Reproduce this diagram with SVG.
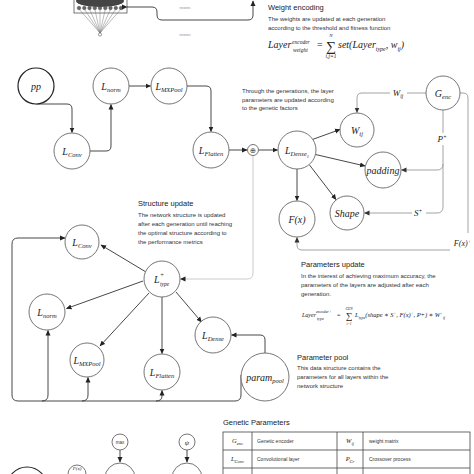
<svg xmlns="http://www.w3.org/2000/svg" width="474" height="474" viewBox="0 0 474 474">
<defs>
<marker id="ah" markerWidth="6" markerHeight="6" refX="5" refY="3" orient="auto" markerUnits="userSpaceOnUse"><path d="M0,0.5 L5.5,3 L0,5.5 Z" fill="#222"/></marker>
<marker id="ahg" markerWidth="6" markerHeight="6" refX="5" refY="3" orient="auto" markerUnits="userSpaceOnUse"><path d="M0,0.5 L5.5,3 L0,5.5 Z" fill="#333"/></marker>
<style>
.n{fill:#fff;stroke:#666;stroke-width:0.9}
.lb{font-family:"Liberation Serif","DejaVu Serif",serif;font-style:italic;font-size:10px;fill:#222;text-anchor:middle}
.s{font-size:6.5px}
.h{font-family:"Liberation Sans",Arial,sans-serif;font-size:7.5px;fill:#222}
.b{font-family:"Liberation Sans",Arial,sans-serif;font-size:6px;fill:#333}
.m{font-family:"Liberation Serif","DejaVu Serif",serif;font-style:italic;fill:#222}
.e{fill:none;stroke:#333;stroke-width:0.9}
.g{fill:none;stroke:#999;stroke-width:0.9}
.t{font-family:"Liberation Sans",Arial,sans-serif;font-size:5px;fill:#333}
</style>
</defs>
<rect width="474" height="474" fill="#fff"/>

<!-- top network graphic -->
<g id="network">
<rect x="74" y="-2" width="53" height="15" fill="#fff" stroke="#555" stroke-width="0.8"/>
<ellipse cx="100" cy="1" rx="24" ry="6" fill="#444"/>
<g stroke="#777" stroke-width="0.5">
<line x1="79" y1="9" x2="100" y2="33"/><line x1="84.3" y1="9" x2="100" y2="33"/><line x1="89.5" y1="9" x2="100" y2="33"/><line x1="94.8" y1="9" x2="100" y2="33"/><line x1="100" y1="9" x2="100" y2="33"/><line x1="105.3" y1="9" x2="100" y2="33"/><line x1="110.5" y1="9" x2="100" y2="33"/><line x1="115.8" y1="9" x2="100" y2="33"/><line x1="121" y1="9" x2="100" y2="33"/>
</g>
<g fill="#666" stroke="#333" stroke-width="0.4">
<circle cx="79" cy="8" r="1.8"/><circle cx="84.3" cy="8" r="1.8"/><circle cx="89.5" cy="8" r="1.8"/><circle cx="94.8" cy="8" r="1.8"/><circle cx="100" cy="8" r="1.8"/><circle cx="105.3" cy="8" r="1.8"/><circle cx="110.5" cy="8" r="1.8"/><circle cx="115.8" cy="8" r="1.8"/><circle cx="121" cy="8" r="1.8"/>
</g>
<circle cx="100" cy="34.5" r="1.6" fill="#fff" stroke="#555" stroke-width="0.6"/>
<text x="185" y="9" font-family="Liberation Sans,sans-serif" font-size="3" fill="#888" text-anchor="middle">neurons</text>
<text x="185" y="36" font-family="Liberation Sans,sans-serif" font-size="3" fill="#888" text-anchor="middle">neurons</text>
</g>

<!-- text blocks -->
<g id="weight-encoding">
<text class="h" x="268" y="10">Weight encoding</text>
<text class="b" x="268" y="21">The weights are updated at each generation</text>
<text class="b" x="268" y="30">according to the threshold and fitness function</text>
<text class="m" x="268" y="48" font-size="10">Layer</text>
<text class="m" x="292" y="43.5" font-size="5.5">encoder</text>
<text class="m" x="293" y="51.5" font-size="5.5">weight</text>
<text x="317" y="48" font-family="Liberation Serif,serif" font-size="10" fill="#222">=</text>
<text x="331" y="50.5" font-family="Liberation Serif,serif" font-size="14" fill="#222" text-anchor="middle">∑</text>
<text class="m" x="331" y="36.5" font-size="5" text-anchor="middle">N</text>
<text class="m" x="331" y="58" font-size="5.5" text-anchor="middle">i,j=1</text>
<text class="m" x="338" y="48" font-size="10">set(Layer<tspan font-size="6" dy="2.5">type</tspan><tspan dy="-2.5">, w</tspan><tspan font-size="6" dy="2.5">ij</tspan><tspan dy="-2.5">)</tspan></text>
</g>

<g id="genetic-note">
<text class="b" x="242" y="93">Through the generations, the layer</text>
<text class="b" x="242" y="101.5">parameters are updated according</text>
<text class="b" x="242" y="110">to the genetic factors</text>
</g>

<g id="structure-update">
<text class="h" x="138" y="206">Structure update</text>
<text class="b" x="138" y="217">The network structure is updated</text>
<text class="b" x="138" y="226">after each generation until reaching</text>
<text class="b" x="138" y="235">the optimal structure according to</text>
<text class="b" x="138" y="244">the performance metrics</text>
</g>

<g id="parameters-update">
<text class="h" x="301" y="267">Parameters update</text>
<text class="b" x="301" y="278">In the interest of achieving maximum accuracy, the</text>
<text class="b" x="301" y="287">parameters of the layers are adjusted after each</text>
<text class="b" x="301" y="296">generation.</text>
<text class="m" x="302" y="317" font-size="6">Layer</text>
<text class="m" x="316" y="313" font-size="4">encoder+</text>
<text class="m" x="317" y="320" font-size="4">type</text>
<text x="337" y="317" font-family="Liberation Serif,serif" font-size="6" fill="#222">=</text>
<text x="349" y="318.5" font-family="Liberation Serif,serif" font-size="9" fill="#222" text-anchor="middle">∑</text>
<text class="m" x="349" y="309.5" font-size="3.5" text-anchor="middle">GEN</text>
<text class="m" x="349" y="324.5" font-size="3.5" text-anchor="middle">i=1</text>
<text class="m" x="355" y="317" font-size="6.5">L<tspan font-size="4" dy="1.5">type</tspan><tspan dy="-1.5">(shape ∗ S</tspan><tspan font-size="4" dy="-2.5">+</tspan><tspan dy="2.5">, F(x)</tspan><tspan font-size="4" dy="-2.5">+</tspan><tspan dy="2.5">, P+) ∗ W</tspan><tspan font-size="4" dy="-2.5">+</tspan><tspan font-size="4" dy="4">ij</tspan></text>
</g>

<g id="parameter-pool-note">
<text class="h" x="297" y="360">Parameter pool</text>
<text class="b" x="297" y="370">This data structure contains the</text>
<text class="b" x="297" y="379">parameters for all layers within the</text>
<text class="b" x="297" y="388">network structure</text>
</g>

<!-- connectors -->
<g id="connectors">
<path class="e" d="M127,7 H152 Q157,7 157,12 V15 Q157,20 162,20 H248 Q253,20 253,15 V1" marker-start="url(#ah)" marker-end="url(#ah)"/>
<path class="e" d="M36,104 H67 Q72,104 72,109 V132.5" marker-end="url(#ah)"/>
<path class="e" d="M90,151 H106 Q111,151 111,146 V104.5" marker-end="url(#ah)"/>
<path class="e" d="M129,86 H150.5" marker-end="url(#ah)"/>
<path class="e" d="M187,86 H206 Q211,86 211,91 V131.5" marker-end="url(#ah)"/>
<path class="e" d="M229,150 H247" marker-end="url(#ah)"/>
<path class="e" d="M258.5,150 H277.5" marker-end="url(#ah)"/>
<path class="e" d="M311,140 L340,129.5" marker-end="url(#ah)"/>
<path class="e" d="M315.5,154.5 L365,166" marker-end="url(#ah)"/>
<path class="e" d="M309.5,165 L336,199.5" marker-end="url(#ah)"/>
<path class="e" d="M297,169 V200.5" marker-end="url(#ah)"/>
<path class="g" d="M426,93 H362 Q357,93 357,98 V112.5" marker-end="url(#ahg)"/>
<path class="g" d="M443,110 V164 Q443,170 437,170 H401.5" marker-end="url(#ahg)"/>
<path class="g" d="M443,164 V207 Q443,213 437,213 H364.5" marker-end="url(#ahg)"/>
<path class="g" d="M460,93 H463 Q468,93 468,98 V233"/>
<path class="g" d="M450,250 H302 Q297,250 297,245 V237.5" marker-end="url(#ahg)"/>
<path d="M253,155.5 V273 Q253,279 247,279 H180.5" fill="none" stroke="#c4c4c4" stroke-width="0.9" marker-end="url(#ah)"/>
<path class="e" d="M146,272 L101,245" marker-end="url(#ah)"/>
<path class="e" d="M143,281 L66.5,308.5" marker-end="url(#ah)"/>
<path class="e" d="M149,293 L100,346" marker-end="url(#ah)"/>
<path class="e" d="M162,297 V353.5" marker-end="url(#ah)"/>
<path class="e" d="M176,292 L201.5,322" marker-end="url(#ah)"/>
<path class="e" d="M265,353 V340 Q265,335 260,335 H231.5" marker-end="url(#ah)"/>
<path class="e" d="M241,375 V395 Q241,401 235,401 H18 Q12,401 12,395 V244 Q12,238 18,238 H65" marker-end="url(#ah)"/>
<path class="e" d="M42,401 Q48,401 48,395 V330.5" marker-end="url(#ah)"/>
<path class="e" d="M82,401 Q88,401 88,395 V377.5" marker-end="url(#ah)"/>
<path class="e" d="M156,401 Q162,401 162,396 V390.5" marker-end="url(#ah)"/>
<path class="e" d="M120,450 V462" marker-end="url(#ah)"/>
<path class="e" d="M187,450 V462" marker-end="url(#ah)"/>
</g>

<!-- connector labels -->
<g id="edge-labels">
<rect x="390" y="87" width="17" height="11" fill="#fff"/>
<text class="m" x="398" y="96" font-size="9" text-anchor="middle">W<tspan font-size="5.5" dy="2">ij</tspan></text>
<rect x="436" y="133" width="14" height="12" fill="#fff"/>
<text class="m" x="442" y="142" font-size="9" text-anchor="middle">P<tspan font-size="5.5" dy="-3.5">+</tspan></text>
<rect x="412" y="207" width="14" height="12" fill="#fff"/>
<text class="m" x="418" y="216" font-size="9" text-anchor="middle">S<tspan font-size="5.5" dy="-3.5">+</tspan></text>
<text class="m" x="471" y="246" font-size="8" text-anchor="end">F(x)<tspan font-size="5" dy="-3">+</tspan></text>
</g>

<!-- nodes -->
<g id="pp"><circle cx="36" cy="86" r="18" fill="#fff" stroke="#222" stroke-width="1.2"/><text class="lb" x="36" y="89.5">pp</text></g>
<g id="L_Conv"><circle class="n" cx="72" cy="151" r="18"/><text class="lb" x="72" y="154.5">L<tspan class="s" dy="2.5">Conv</tspan></text></g>
<g id="L_norm"><circle class="n" cx="111" cy="86" r="18"/><text class="lb" x="111" y="89.5">L<tspan class="s" dy="2.5">norm</tspan></text></g>
<g id="L_MXPool"><circle class="n" cx="169" cy="86" r="18"/><text class="lb" x="169" y="89.5">L<tspan class="s" dy="2.5">MXPool</tspan></text></g>
<g id="L_Flatten"><circle class="n" cx="211" cy="150" r="18"/><text class="lb" x="211" y="153.5">L<tspan class="s" dy="2.5">Flatten</tspan></text></g>
<g id="oplus"><circle class="n" cx="253" cy="150" r="5.5"/><text x="253" y="152.8" font-family="DejaVu Sans,sans-serif" font-size="7.5" fill="#444" text-anchor="middle">⊕</text></g>
<g id="L_Dense1"><circle class="n" cx="297" cy="150" r="19"/><text class="lb" x="297" y="153.5">L<tspan class="s" dy="2.5">Dense</tspan><tspan font-size="4.5" dy="1.5">1</tspan></text></g>
<g id="W_ij"><circle class="n" cx="357" cy="130" r="17"/><text class="lb" x="357" y="133.5">W<tspan class="s" dy="2.5">ij</tspan></text></g>
<g id="padding"><circle class="n" cx="383" cy="170" r="18"/><text class="lb" x="383" y="173.5">padding</text></g>
<g id="G_enc"><circle class="n" cx="443" cy="93" r="17"/><text class="lb" x="443" y="96.5">G<tspan class="s" dy="2.5">enc</tspan></text></g>
<g id="Shape"><circle class="n" cx="347" cy="213" r="17"/><text class="lb" x="347" y="216.5">Shape</text></g>
<g id="F_x"><circle class="n" cx="297" cy="219" r="18"/><text class="lb" x="297" y="222.5">F(x)</text></g>
<g id="L_type_plus"><circle class="n" cx="162" cy="279" r="18"/><text class="m" x="154" y="283" font-size="10">L</text><text class="m" x="160" y="277" font-size="6">+</text><text class="m" x="160" y="285.5" font-size="5.5">type</text></g>
<g id="L_Conv2"><circle class="n" cx="82" cy="242" r="17"/><text class="lb" x="82" y="245.5">L<tspan class="s" dy="2.5">Conv</tspan></text></g>
<g id="L_norm2"><circle class="n" cx="47" cy="312" r="18"/><text class="lb" x="47" y="315.5">L<tspan class="s" dy="2.5">norm</tspan></text></g>
<g id="L_MXPool2"><circle class="n" cx="87" cy="360" r="17"/><text class="lb" x="87" y="363.5">L<tspan class="s" dy="2.5">MXPool</tspan></text></g>
<g id="L_Flatten2"><circle class="n" cx="162" cy="372" r="18"/><text class="lb" x="162" y="375.5">L<tspan class="s" dy="2.5">Flatten</tspan></text></g>
<g id="L_Dense"><circle class="n" cx="213" cy="335" r="18"/><text class="lb" x="213" y="338.5">L<tspan class="s" dy="2.5">Dense</tspan></text></g>
<g id="param_pool"><circle class="n" cx="265" cy="377" r="24"/><text class="lb" x="265" y="380.5">param<tspan class="s" dy="2.5">pool</tspan></text></g>

<!-- bottom partial nodes -->
<g id="bottom-left"><circle cx="27" cy="487" r="20" fill="#fff" stroke="#222" stroke-width="1.1"/></g>
<g id="Fx_small"><circle class="n" cx="77" cy="474" r="9"/><text class="m" x="77" y="470" font-size="5" text-anchor="middle">F(x)</text></g>
<g id="max"><circle class="n" cx="120" cy="442" r="8"/><text x="120" y="443.8" font-family="Liberation Sans,sans-serif" font-size="4.5" fill="#333" text-anchor="middle">max</text></g>
<g id="max_target"><circle class="n" cx="120" cy="478" r="15"/></g>
<g id="psi"><circle class="n" cx="187" cy="442" r="8"/><text class="m" x="187" y="444.5" font-size="7" text-anchor="middle">ψ</text></g>
<g id="psi_target"><circle class="n" cx="187" cy="478" r="15"/></g>

<!-- table -->
<g id="genetic-parameters">
<text class="h" x="223" y="425">Genetic Parameters</text>
<rect x="223" y="432" width="247" height="50" fill="#fff" stroke="#444" stroke-width="0.8"/>
<g stroke="#444" stroke-width="0.8">
<line x1="223" y1="450" x2="470" y2="450"/><line x1="223" y1="468" x2="470" y2="468"/>
<line x1="252" y1="432" x2="252" y2="474"/><line x1="337" y1="432" x2="337" y2="474"/><line x1="363" y1="432" x2="363" y2="474"/>
</g>
<text class="m" x="237.5" y="443" font-size="6.5" text-anchor="middle">G<tspan font-size="4.5" dy="1.5">enc</tspan></text>
<text class="t" x="257" y="443">Genetic encoder</text>
<text class="m" x="350" y="443" font-size="6.5" text-anchor="middle">W<tspan font-size="4.5" dy="1.5">ij</tspan></text>
<text class="t" x="369" y="443">weight matrix</text>
<text class="m" x="237.5" y="461" font-size="6.5" text-anchor="middle">L<tspan font-size="4.5" dy="1.5">Conv</tspan></text>
<text class="t" x="257" y="461">Convolutional layer</text>
<text class="m" x="350" y="461" font-size="6.5" text-anchor="middle">P<tspan font-size="4.5" dy="1.5">Cr</tspan></text>
<text class="t" x="369" y="461">Crossover process</text>
</g>
</svg>
